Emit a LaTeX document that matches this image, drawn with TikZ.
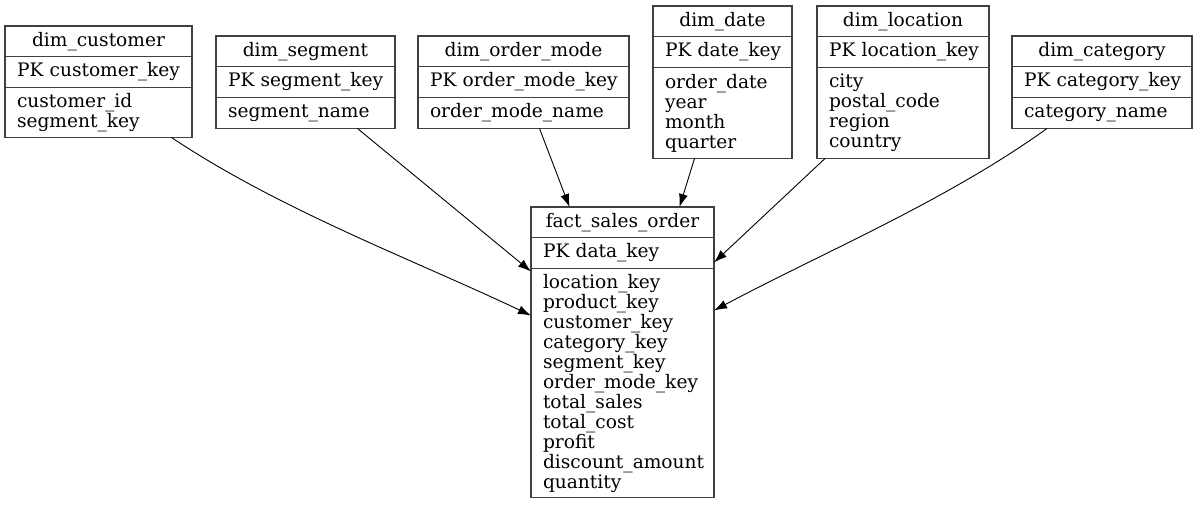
\documentclass[tikz,border=0pt]{standalone}
\usepackage{fontspec}
\setmainfont{DejaVu Serif}
\usetikzlibrary{positioning,arrows.meta}
\newcommand{\tabfont}{\fontsize{18.6}{20}\selectfont\hyphenpenalty=10000\exhyphenpenalty=10000\hbadness=10000\hfuzz=20pt}

\begin{document}
\begin{tikzpicture}[x=1pt,y=-1pt]
	\tikzstyle{cell}=[rectangle, draw=black!75, line width=1.4pt, inner xsep=12pt, inner ysep=0pt, outer sep=0pt, font=\tabfont, minimum height=31pt]
	\tikzstyle{head}=[cell, align=center, minimum height=30.5pt]
	\tikzstyle{field}=[cell, align=left]
	\tikzstyle{connect}=[-{Latex[length=13pt,width=9pt]}, line width=0.9pt]
	\useasboundingbox (0,0) rectangle (1198,505);
	  % dimension tables
	  \node[head, text width=163pt, anchor=north west] (cust) at (5,26) {dim\_customer};
	  \node[field, text width=163pt] (cust-pk) [below=0pt of cust] {PK~customer\_key};
	  \node[field, text width=163pt, minimum height=50pt] (cust-b) [below=0pt of cust-pk] {customer\_id\\segment\_key};

	  \node[head, text width=155pt, anchor=north west] (seg) at (216,36) {dim\_segment};
	  \node[field, text width=155pt] (seg-pk) [below=0pt of seg] {PK~segment\_key};
	  \node[field, text width=155pt] (seg-b) [below=0pt of seg-pk] {segment\_name};

	  \node[head, text width=187pt, anchor=north west] (mode) at (418,36) {dim\_order\_mode};
	  \node[field, text width=187pt] (mode-pk) [below=0pt of mode] {PK~order\_mode\_key};
	  \node[field, text width=187pt] (mode-b) [below=0pt of mode-pk] {order\_mode\_name};

	  \node[head, text width=115pt, anchor=north west] (date) at (653,6) {dim\_date};
	  \node[field, text width=115pt] (date-pk) [below=0pt of date] {PK~date\_key};
	  \node[field, text width=115pt, minimum height=91pt] (date-b) [below=0pt of date-pk] {order\_date\\year\\month\\quarter};

	  \node[head, text width=148pt, anchor=north west] (loc) at (817,6) {dim\_location};
	  \node[field, text width=148pt] (loc-pk) [below=0pt of loc] {PK~location\_key};
	  \node[field, text width=148pt, minimum height=91pt] (loc-b) [below=0pt of loc-pk] {city\\postal\_code\\region\\country};

	  \node[head, text width=156pt, anchor=north west] (cat) at (1012,36) {dim\_category};
	  \node[field, text width=156pt] (cat-pk) [below=0pt of cat] {PK~category\_key};
	  \node[field, text width=156pt] (cat-b) [below=0pt of cat-pk] {category\_name};

	  % fact table
	  \node[head, text width=159pt, anchor=north west] (fact) at (531,207) {fact\_sales\_order};
	  \node[field, text width=159pt] (fact-pk) [below=0pt of fact] {PK~data\_key};
	  \node[field, text width=159pt, minimum height=229pt] (fact-b) [below=0pt of fact-pk] {location\_key\\product\_key\\customer\_key\\category\_key\\segment\_key\\order\_mode\_key\\total\_sales\\total\_cost\\profit\\discount\_amount\\quantity};

	  \draw[connect] ([xshift=73pt]cust-b.south) .. controls (280,210) and (414,260) .. ([yshift=-47pt]fact-b.north west);
	  \path ([xshift=52pt]seg-b.south) edge [connect] ([yshift=-3pt]fact-b.north west)
			([xshift=16pt]mode-b.south) edge [connect] ([xshift=-53pt]fact.north)
			([xshift=-28pt]date-b.south) edge [connect] ([xshift=57pt]fact.north)
			([xshift=-78pt]loc-b.south) edge [connect] ([yshift=6pt]fact-b.north east);
	  \draw[connect] ([xshift=-55pt]cat-b.south) .. controls (946,201) and (824,252) .. ([yshift=-42pt]fact-b.north east);

	\end{tikzpicture}
\end{document}
